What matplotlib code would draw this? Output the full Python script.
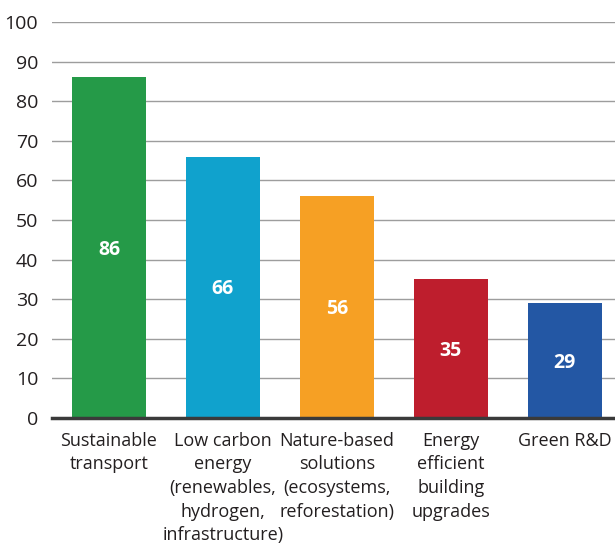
import matplotlib.pyplot as plt

# sectors and their scores
categories = ['Sustainable\ntransport',
              'Low carbon\nenergy\n(renewables,\nhydrogen,\ninfrastructure)',
              'Nature-based\nsolutions\n(ecosystems,\nreforestation)',
              'Energy\nefficient\nbuilding\nupgrades',
              'Green R&D']
values = [86, 66, 56, 35, 29]
colors = ['#259A48', '#10A2CD', '#F6A024', '#BE1E2D', '#2357A4']
yticks = [0, 10, 20, 30, 40, 50, 60, 70, 80, 90, 100]

plt.rcParams['font.family'] = ['Liberation Sans Narrow', 'Open Sans', 'DejaVu Sans']

fig = plt.figure(figsize=(6.15, 5.52), dpi=100)
ax = fig.add_axes([52 / 615, (552 - 418) / 552, 1 - 52 / 615, (418 - 22) / 552])

x = range(len(values))
bars = ax.bar(x, values, width=0.65, color=colors, zorder=3)

# value labels inside the bars
for xi, v in zip(x, values):
    ax.text(xi, v / 2 - 0.5, str(v), ha='center', va='center', color='white',
            fontsize=14, fontweight='bold', family=['Open Sans', 'DejaVu Sans'], zorder=4)

ax.set_xlim(-0.5, 4.44)
ax.set_ylim(0, 100)
ax.set_yticks(yticks)
ax.set_xticks(list(x))
ax.set_xticklabels(categories, fontsize=13, color='#231F20', linespacing=1.4)
ax.tick_params(axis='y', length=0, labelsize=14, labelcolor='#231F20', pad=10)
ax.tick_params(axis='x', length=0, pad=10)

ax.grid(axis='y', color='#9D9D9D', linewidth=1.0, zorder=0)
for s in ['top', 'right', 'left']:
    ax.spines[s].set_visible(False)
ax.spines['bottom'].set_color('#3A3A3A')
ax.spines['bottom'].set_linewidth(2.5)
ax.spines['bottom'].set_zorder(5)

fig.savefig('out.png', dpi=100)
